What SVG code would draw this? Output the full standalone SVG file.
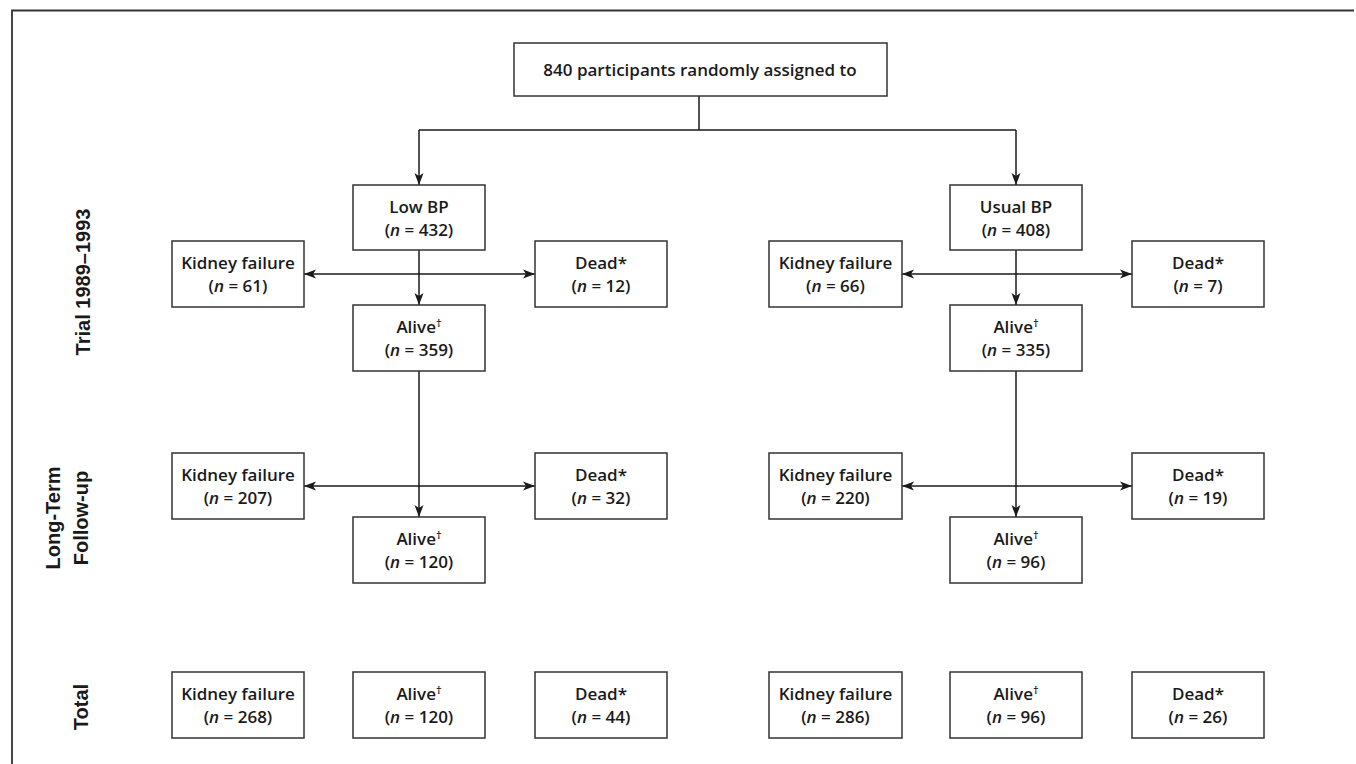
<svg xmlns="http://www.w3.org/2000/svg" width="1356" height="764" viewBox="0 0 1356 764">
<defs>
<marker id="ah" viewBox="0 0 12 10" refX="12" refY="5" markerWidth="12" markerHeight="10" markerUnits="userSpaceOnUse" orient="auto-start-reverse">
<path d="M0,0.5 L12,5 L0,9.5 L3,5 Z" fill="#1a1a1a"/>
</marker>
</defs>
<style>
.box{fill:#fff;stroke:#333;stroke-width:1.5}
.t{font-family:"Open Sans","Liberation Sans",sans-serif;font-weight:600;font-size:17px;fill:#1a1a1a;text-anchor:middle}
.lab{font-family:"Liberation Sans",Arial,sans-serif;font-weight:700;font-size:20px;fill:#1a1a1a;text-anchor:middle}
.c{fill:none;stroke:#1a1a1a;stroke-width:1.5}
.sup{font-size:11px}
</style>
<rect width="1356" height="764" fill="#fff"/>
<polyline points="12,764 12,10.5 1354,10.5" fill="none" stroke="#333" stroke-width="1.8"/>
<g id="labels">
<text class="lab" transform="translate(90,282) rotate(-90)">Trial 1989–1993</text>
<text class="lab" transform="translate(60,518) rotate(-90)">Long-Term</text>
<text class="lab" transform="translate(88,518) rotate(-90)">Follow-up</text>
<text class="lab" transform="translate(88,707) rotate(-90)">Total</text>
</g>
<g id="connectors">
<path class="c" d="M699,96 V130 M419,130 H1016"/>
<path class="c" d="M419,130 V185" marker-end="url(#ah)"/>
<path class="c" d="M1016,130 V185" marker-end="url(#ah)"/>
<path class="c" d="M419,250 V305" marker-end="url(#ah)"/>
<path class="c" d="M1016,250 V305" marker-end="url(#ah)"/>
<path class="c" d="M304,274 H535" marker-start="url(#ah)" marker-end="url(#ah)"/>
<path class="c" d="M902,274 H1132" marker-start="url(#ah)" marker-end="url(#ah)"/>
<path class="c" d="M419,371 V517" marker-end="url(#ah)"/>
<path class="c" d="M1016,371 V517" marker-end="url(#ah)"/>
<path class="c" d="M304,486 H535" marker-start="url(#ah)" marker-end="url(#ah)"/>
<path class="c" d="M902,486 H1132" marker-start="url(#ah)" marker-end="url(#ah)"/>
</g>
<g id="start"><rect class="box" x="514" y="43" width="373" height="53"/><text class="t" x="700" y="75.5">840 participants randomly assigned to</text></g>
<g id="lowbp"><rect class="box" x="353" y="185" width="132" height="65"/><text class="t" x="419" y="213">Low BP</text><text class="t" x="419" y="236">(<tspan font-style="italic">n</tspan> = 432)</text></g>
<g id="usualbp"><rect class="box" x="950" y="185" width="132" height="65"/><text class="t" x="1016" y="213">Usual BP</text><text class="t" x="1016" y="236">(<tspan font-style="italic">n</tspan> = 408)</text></g>
<g id="l-kf1"><rect class="box" x="172" y="241" width="132" height="66"/><text class="t" x="238" y="269">Kidney failure</text><text class="t" x="238" y="292">(<tspan font-style="italic">n</tspan> = 61)</text></g>
<g id="l-dead1"><rect class="box" x="535" y="241" width="132" height="66"/><text class="t" x="601" y="269">Dead*</text><text class="t" x="601" y="292">(<tspan font-style="italic">n</tspan> = 12)</text></g>
<g id="l-alive1"><rect class="box" x="353" y="305" width="132" height="66"/><text class="t" x="419" y="333">Alive<tspan class="sup" dy="-6">†</tspan></text><text class="t" x="419" y="356">(<tspan font-style="italic">n</tspan> = 359)</text></g>
<g id="r-kf1"><rect class="box" x="769" y="241" width="133" height="66"/><text class="t" x="835.5" y="269">Kidney failure</text><text class="t" x="835.5" y="292">(<tspan font-style="italic">n</tspan> = 66)</text></g>
<g id="r-dead1"><rect class="box" x="1132" y="241" width="132" height="66"/><text class="t" x="1198" y="269">Dead*</text><text class="t" x="1198" y="292">(<tspan font-style="italic">n</tspan> = 7)</text></g>
<g id="r-alive1"><rect class="box" x="950" y="305" width="132" height="66"/><text class="t" x="1016" y="333">Alive<tspan class="sup" dy="-6">†</tspan></text><text class="t" x="1016" y="356">(<tspan font-style="italic">n</tspan> = 335)</text></g>
<g id="l-kf2"><rect class="box" x="172" y="453" width="132" height="66"/><text class="t" x="238" y="481">Kidney failure</text><text class="t" x="238" y="504">(<tspan font-style="italic">n</tspan> = 207)</text></g>
<g id="l-dead2"><rect class="box" x="535" y="453" width="132" height="66"/><text class="t" x="601" y="481">Dead*</text><text class="t" x="601" y="504">(<tspan font-style="italic">n</tspan> = 32)</text></g>
<g id="l-alive2"><rect class="box" x="353" y="517" width="132" height="66"/><text class="t" x="419" y="545">Alive<tspan class="sup" dy="-6">†</tspan></text><text class="t" x="419" y="568">(<tspan font-style="italic">n</tspan> = 120)</text></g>
<g id="r-kf2"><rect class="box" x="769" y="453" width="133" height="66"/><text class="t" x="835.5" y="481">Kidney failure</text><text class="t" x="835.5" y="504">(<tspan font-style="italic">n</tspan> = 220)</text></g>
<g id="r-dead2"><rect class="box" x="1132" y="453" width="132" height="66"/><text class="t" x="1198" y="481">Dead*</text><text class="t" x="1198" y="504">(<tspan font-style="italic">n</tspan> = 19)</text></g>
<g id="r-alive2"><rect class="box" x="950" y="517" width="132" height="66"/><text class="t" x="1016" y="545">Alive<tspan class="sup" dy="-6">†</tspan></text><text class="t" x="1016" y="568">(<tspan font-style="italic">n</tspan> = 96)</text></g>
<g id="l-kf-total"><rect class="box" x="172" y="672" width="132" height="66"/><text class="t" x="238" y="700">Kidney failure</text><text class="t" x="238" y="723">(<tspan font-style="italic">n</tspan> = 268)</text></g>
<g id="l-alive-total"><rect class="box" x="353" y="672" width="132" height="66"/><text class="t" x="419" y="700">Alive<tspan class="sup" dy="-6">†</tspan></text><text class="t" x="419" y="723">(<tspan font-style="italic">n</tspan> = 120)</text></g>
<g id="l-dead-total"><rect class="box" x="535" y="672" width="132" height="66"/><text class="t" x="601" y="700">Dead*</text><text class="t" x="601" y="723">(<tspan font-style="italic">n</tspan> = 44)</text></g>
<g id="r-kf-total"><rect class="box" x="769" y="672" width="133" height="66"/><text class="t" x="835.5" y="700">Kidney failure</text><text class="t" x="835.5" y="723">(<tspan font-style="italic">n</tspan> = 286)</text></g>
<g id="r-alive-total"><rect class="box" x="950" y="672" width="132" height="66"/><text class="t" x="1016" y="700">Alive<tspan class="sup" dy="-6">†</tspan></text><text class="t" x="1016" y="723">(<tspan font-style="italic">n</tspan> = 96)</text></g>
<g id="r-dead-total"><rect class="box" x="1132" y="672" width="132" height="66"/><text class="t" x="1198" y="700">Dead*</text><text class="t" x="1198" y="723">(<tspan font-style="italic">n</tspan> = 26)</text></g>
</svg>
